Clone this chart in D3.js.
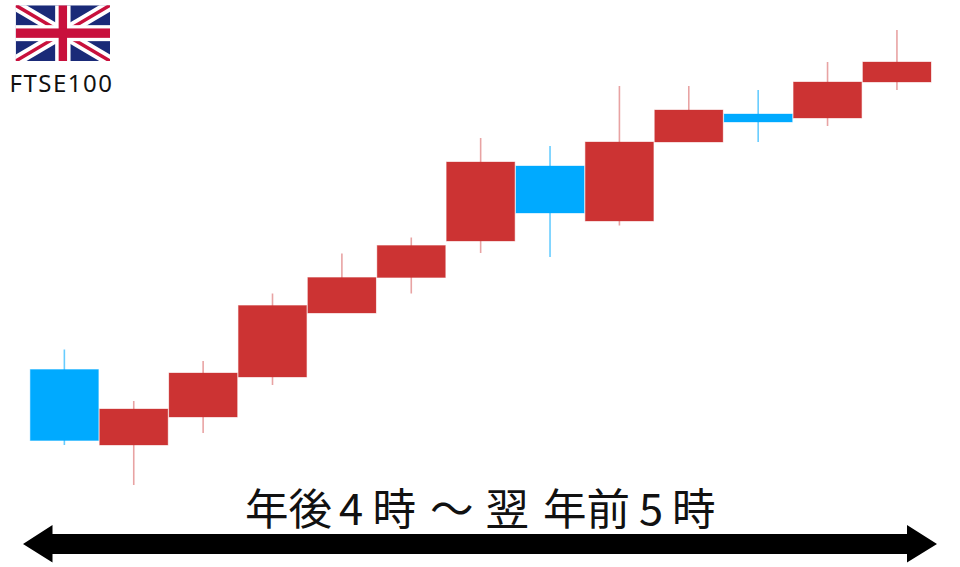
<!DOCTYPE html>
<html><head><meta charset="utf-8">
<style>html,body{margin:0;padding:0;background:#fff}svg{display:block}</style>
<script src="https://d3js.org/d3.v7.min.js"></script></head>
<body><svg id="c" width="960" height="567"></svg>
<script>
// Values (arbitrary index units, relative to the chart floor)
const sessions = d3.range(1, 14);
const opens  = [ 59.5, 91,  83, 123, 187, 222.5, 259, 287, 279, 358, 378, 382, 418];
const closes = [130.5, 55, 127, 194.5, 222.5, 254.5, 338, 334, 358, 390, 386, 418, 438];
const highs  = [150.5, 99, 139, 206.5, 246.5, 262.5, 362, 354, 414, 414, 410, 438, 470];
const lows   = [ 55,   15,  67, 115, 187, 206.5, 247, 243, 274.5, 358, 358, 374, 410];
const falling = [true,false,false,false,false,false,false,true,false,false,true,false,false];
const flagLabel = "FTSE100";
const rangeParts = ["年後","4","時","～","翌","年前","5","時"];
const rangePartX = [245, 339, 372.5, 430, 485.5, 543, 639, 672];

const svg = d3.select("#c");
const x = d3.scaleBand().domain(sessions).range([30.3, 931]).paddingInner(0.018).paddingOuter(0);
const y = d3.scaleLinear().domain([0, 500]).range([500, 0]);

const upCol = "#cc3333", dnCol = "#00aaff";
const g = svg.append("g");
sessions.forEach((s, i) => {
  const col = falling[i] ? dnCol : upCol;
  const cx = x(s) + x.bandwidth() / 2;
  g.append("line").attr("x1", cx).attr("x2", cx)
    .attr("y1", y(highs[i])).attr("y2", y(lows[i]))
    .attr("stroke", col).attr("stroke-opacity", falling[i] ? 0.6 : 0.45).attr("stroke-width", 1.6);
  const t = y(Math.max(opens[i], closes[i])), b = y(Math.min(opens[i], closes[i]));
  g.append("rect").attr("x", x(s)).attr("width", x.bandwidth())
    .attr("y", t).attr("height", b - t).attr("fill", col)
    .attr("stroke", col).attr("stroke-opacity", 0.35).attr("stroke-width", 1);
});

// Flag
const fx = 15.7, fy = 5.3, fw = 94.3, fh = 55.7;
const mx = fx + fw / 2, my = fy + fh / 2;
const navy = "#1a2a78", red = "#c8103c";
svg.append("defs").append("clipPath").attr("id", "fl").append("rect").attr("x", fx).attr("y", fy).attr("width", fw).attr("height", fh);
const f = svg.append("g").attr("clip-path", "url(#fl)");
f.append("rect").attr("x", fx).attr("y", fy).attr("width", fw).attr("height", fh).attr("fill", navy);
const diag = [[fx, fy, fx + fw, fy + fh], [fx, fy + fh, fx + fw, fy]];
diag.forEach(d => f.append("line").attr("x1", d[0]).attr("y1", d[1]).attr("x2", d[2]).attr("y2", d[3]).attr("stroke", "#fff").attr("stroke-width", 11));
diag.forEach(d => f.append("line").attr("x1", d[0]).attr("y1", d[1]).attr("x2", d[2]).attr("y2", d[3]).attr("stroke", red).attr("stroke-width", 3.5));
f.append("rect").attr("x", mx - 7.7).attr("y", fy).attr("width", 15.4).attr("height", fh).attr("fill", "#fff");
f.append("rect").attr("x", fx).attr("y", my - 8).attr("width", fw).attr("height", 16).attr("fill", "#fff");
f.append("rect").attr("x", mx - 4.2).attr("y", fy).attr("width", 8.4).attr("height", fh).attr("fill", red);
f.append("rect").attr("x", fx).attr("y", my - 4.7).attr("width", fw).attr("height", 9.4).attr("fill", red);

svg.append("text").attr("x", 61.5).attr("y", 92).attr("text-anchor", "middle")
  .attr("font-family", "'Noto Sans','Open Sans',sans-serif").attr("font-size", 24).attr("letter-spacing", 1.5).attr("fill", "#111").text(flagLabel);

svg.append("g").selectAll("text").data(rangeParts).join("text")
  .attr("x", (d, i) => rangePartX[i]).attr("y", 525)
  .attr("font-family", "'Noto Sans CJK JP',sans-serif").attr("font-size", 43.5).attr("fill", "#111").text(d => d);

// Double arrow
svg.append("path").attr("fill", "#000")
  .attr("d", d3.line()([[23,544],[52.5,525],[52.5,534],[907,534],[907,525],[937,544],[907,562.5],[907,554],[52.5,554],[52.5,562.5]]) + "Z");
</script></body></html>
